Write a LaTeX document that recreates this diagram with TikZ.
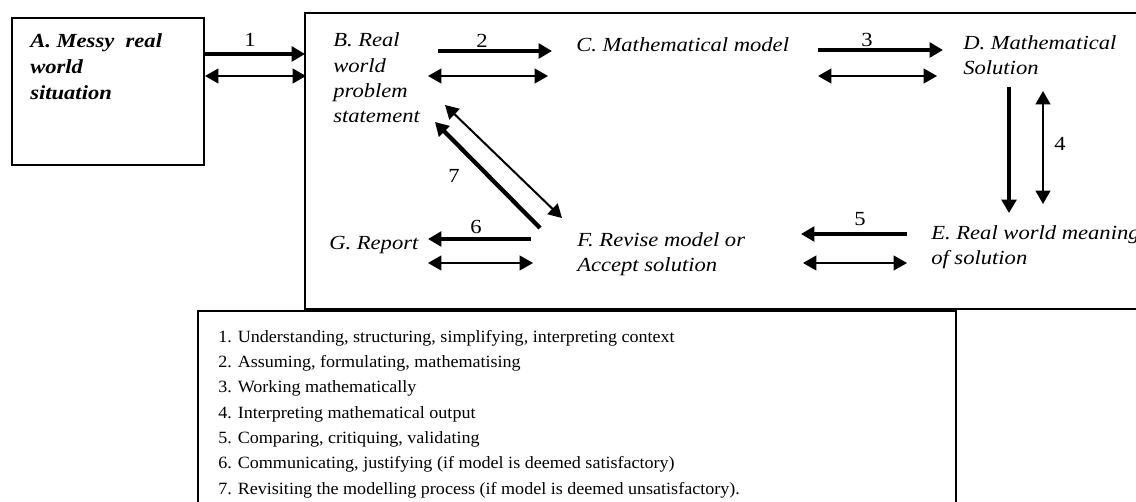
\documentclass[tikz,border=0pt]{standalone}
\usepackage{fontspec}
\setmainfont[FakeStretch=1.13]{Liberation Serif}
\newfontfamily\keyfont[FakeStretch=1.05]{Liberation Serif}
\usetikzlibrary{arrows.meta}

\begin{document}
\begin{tikzpicture}[x=0.75pt,y=-0.75pt,
  lbl/.style={anchor=base west,inner sep=0pt,align=left,
    font=\fontsize{15}{19}\selectfont\itshape},
  num/.style={inner sep=0pt,font=\fontsize{15}{15}\selectfont},
  fwd/.style={line width=3.2pt,-{Triangle[length=10pt,width=11pt]}},
  both/.style={line width=1.5pt,
    {Triangle[length=10pt,width=11pt]}-{Triangle[length=10pt,width=11pt]}},
  frame/.style={line width=1pt}]
  \useasboundingbox (0,0) rectangle (1136,502);
  \clip (0,0) rectangle (1136,502);

  % Frames
  \draw [frame] (12,18) rectangle (204,165);
  \draw [frame] (1150,13) -| (305,309) -- (1150,309);
  \draw [frame] (198,515) |- (956,311) -- (956,515);

  % Stages (placed by the baseline of their last line)
  \node [lbl,font=\fontsize{15}{19.5}\selectfont\bfseries\itshape] (messy) at (30,100)
    {A. Messy~ real\\world\\situation};
  \node [lbl] (problem) at (333,123) {B. Real\\world\\problem\\statement};
  \node [lbl] (model) at (576,52) {C. Mathematical model};
  \node [lbl] (solution) at (963,75) {D. Mathematical\\Solution};
  \node [lbl] (meaning) at (931,265) {E. Real world meaning\\of solution};
  \node [lbl] (revise) at (577,272) {F. Revise model or\\Accept solution};
  \node [lbl] (report) at (329,250) {G. Report};

  % Arrow ends
  \coordinate (a1) at (204,54);   \coordinate (b1) at (305,54);
  \coordinate (c1) at (205,76);   \coordinate (d1) at (306,76);
  \coordinate (a2) at (438,51);   \coordinate (b2) at (552,51);
  \coordinate (c2) at (428,76);   \coordinate (d2) at (548,76);
  \coordinate (a3) at (818,50);   \coordinate (b3) at (943,50);
  \coordinate (c3) at (818,76);   \coordinate (d3) at (937,76);
  \coordinate (a4) at (1009,87);  \coordinate (b4) at (1009,213);
  \coordinate (c4) at (1043,91);  \coordinate (d4) at (1043,204);
  \coordinate (a5) at (907,234);  \coordinate (b5) at (801,234);
  \coordinate (c5) at (803,263);  \coordinate (d5) at (907,263);
  \coordinate (a6) at (531,239);  \coordinate (b6) at (428,239);
  \coordinate (c6) at (428,263);  \coordinate (d6) at (533,263);
  \coordinate (a7) at (540,228);  \coordinate (b7) at (435,122);
  \coordinate (c7) at (445,105);  \coordinate (d7) at (562,218);

  \foreach \i in {1,...,7} {
    \draw [fwd] (a\i) -- (b\i);
    \draw [both] (c\i) -- (d\i);
  }

  % Step numbers
  \node [num] (n1) at (250,40) {1};
  \node [num] (n2) at (482,41) {2};
  \node [num] (n3) at (867,40) {3};
  \node [num] (n4) at (1060,144) {4};
  \node [num] (n5) at (860,219) {5};
  \node [num] (n6) at (476,227) {6};
  \node [num] (n7) at (454,176) {7};

  % Key
  \node [anchor=base west,inner sep=0pt,align=left,
    font=\keyfont\fontsize{12.9}{19}\selectfont] (key) at (218,494)
    {1. Understanding, structuring, simplifying, interpreting context\\
     2. Assuming, formulating, mathematising\\
     3. Working mathematically\\
     4. Interpreting mathematical output\\
     5. Comparing, critiquing, validating\\
     6. Communicating, justifying (if model is deemed satisfactory)\\
     7. Revisiting the modelling process (if model is deemed unsatisfactory).};
\end{tikzpicture}
\end{document}
